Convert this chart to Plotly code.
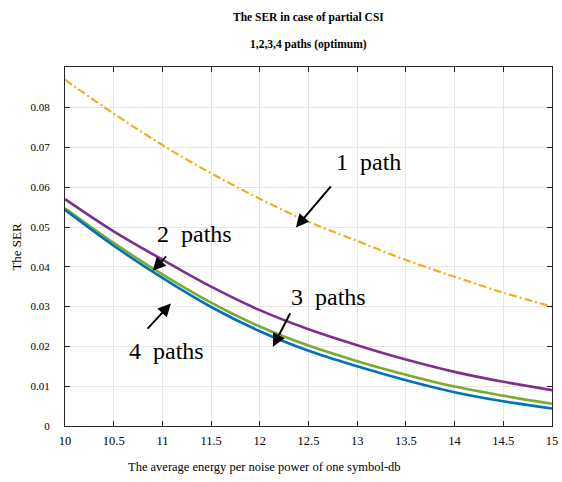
import plotly.graph_objects as go

# SNR per symbol (dB)
snr_db = [10, 10.5, 11, 11.5, 12, 12.5, 13, 13.5, 14, 14.5, 15]

# Symbol error rate for each number of paths
ser_1_path = [0.0870, 0.0785, 0.0706, 0.0635, 0.0571, 0.0513, 0.0465, 0.0417, 0.0375, 0.0335, 0.0300]
ser_2_paths = [0.0570, 0.0489, 0.0418, 0.0350, 0.0291, 0.0243, 0.0203, 0.0167, 0.0136, 0.0111, 0.0090]
ser_3_paths = [0.0547, 0.0460, 0.0381, 0.0310, 0.0250, 0.0202, 0.0163, 0.0129, 0.0099, 0.0076, 0.0056]
ser_4_paths = [0.0543, 0.0453, 0.0372, 0.0299, 0.0238, 0.0189, 0.0150, 0.0115, 0.0085, 0.0062, 0.0044]

x_ticks = [10, 10.5, 11, 11.5, 12, 12.5, 13, 13.5, 14, 14.5, 15]
x_tick_text = ["10", "10.5", "11", "11.5", "12", "12.5", "13", "13.5", "14", "14.5", "15"]
y_ticks = [0, 0.01, 0.02, 0.03, 0.04, 0.05, 0.06, 0.07, 0.08]
y_tick_text = ["0", "0.01", "0.02", "0.03", "0.04", "0.05", "0.06", "0.07", "0.08"]

SERIF = "Liberation Serif, Times New Roman, serif"
FRAME = "#262626"

fig = go.Figure()
fig.add_trace(go.Scatter(x=snr_db, y=ser_1_path, mode="lines", line_shape="spline",
                         line=dict(color="#EDB120", width=2.2, dash="8px,3px,2px,3px")))
fig.add_trace(go.Scatter(x=snr_db, y=ser_2_paths, mode="lines", line_shape="spline",
                         line=dict(color="#7E2F8E", width=2.6)))
fig.add_trace(go.Scatter(x=snr_db, y=ser_3_paths, mode="lines", line_shape="spline",
                         line=dict(color="#77AC30", width=2.6)))
fig.add_trace(go.Scatter(x=snr_db, y=ser_4_paths, mode="lines", line_shape="spline",
                         line=dict(color="#0072BD", width=2.6)))

# Curve labels with pointing arrows: (text, text pos, arrow tail, arrow head)
labels = [
    ("1\u00a0\u00a0path", (13.12, 0.0663), (12.743, 0.0606), (12.371, 0.0499)),
    ("2\u00a0\u00a0paths", (11.334, 0.0482), (11.053, 0.0430), (10.90, 0.0390)),
    ("3\u00a0\u00a0paths", (12.703, 0.0324), (12.32, 0.0287), (12.135, 0.0199)),
    ("4\u00a0\u00a0paths", (11.04, 0.0188), (10.834, 0.0241), (11.087, 0.0308)),
]
annotations = []
for text, (tx, ty), (ax, ay), (hx, hy) in labels:
    annotations.append(dict(x=tx, y=ty, xref="x", yref="y", text=text, showarrow=False,
                            xanchor="center", yanchor="middle",
                            font=dict(family=SERIF, size=24, color="black")))
    annotations.append(dict(x=hx, y=hy, ax=ax, ay=ay, xref="x", yref="y", axref="x", ayref="y",
                            text="", showarrow=True, arrowhead=2, arrowsize=1.3,
                            arrowwidth=2, arrowcolor="black", standoff=0, startstandoff=0))

# Titles placed in pixel positions, converted to paper coordinates below
text_items = [
    (311, 17, "<b>The SER in case of partial CSI</b>", 11.5, 0),
    (311, 44, "<b>1,2,3,4 paths (optimum)</b>", 11.5, 0),
    (267, 467, "The average energy per noise power of one symbol-db", 12.5, 0),
    (15, 247, "The SER", 13, -90),
]

L, R, T, B = 65, 4, 67, 56
W, H = 562, 482
for px, py, text, size, angle in text_items:
    annotations.append(dict(
        x=(px - L) / (W - L - R), y=((H - py) - B) / (H - T - B),
        xref="paper", yref="paper", xanchor="center", yanchor="middle",
        text=text, textangle=angle, showarrow=False,
        font=dict(family=SERIF, size=size, color="black")))

fig.update_layout(
    width=W, height=H,
    margin=dict(l=L, r=R, t=T, b=B, pad=0),
    paper_bgcolor="white", plot_bgcolor="white",
    showlegend=False,
    annotations=annotations,
    xaxis=dict(range=[10, 15], tickvals=x_ticks, ticktext=x_tick_text,
               showgrid=True, gridcolor="#e6e6e6", gridwidth=1, zeroline=False,
               showline=True, linecolor=FRAME, linewidth=1, mirror="ticks",
               ticks="inside", ticklen=5, tickcolor=FRAME, tickwidth=1,
               ticklabelstandoff=3, ticklabeloverflow="allow",
               tickfont=dict(family=SERIF, size=12.5, color="black")),
    yaxis=dict(range=[0, 0.0902], tickvals=y_ticks, ticktext=y_tick_text,
               showgrid=True, gridcolor="#e6e6e6", gridwidth=1, zeroline=False,
               showline=True, linecolor=FRAME, linewidth=1, mirror="ticks",
               ticks="inside", ticklen=5, tickcolor=FRAME, tickwidth=1,
               ticklabelstandoff=12, ticklabeloverflow="allow",
               tickfont=dict(family=SERIF, size=11, color="black")),
)

fig.write_html("out.html")
